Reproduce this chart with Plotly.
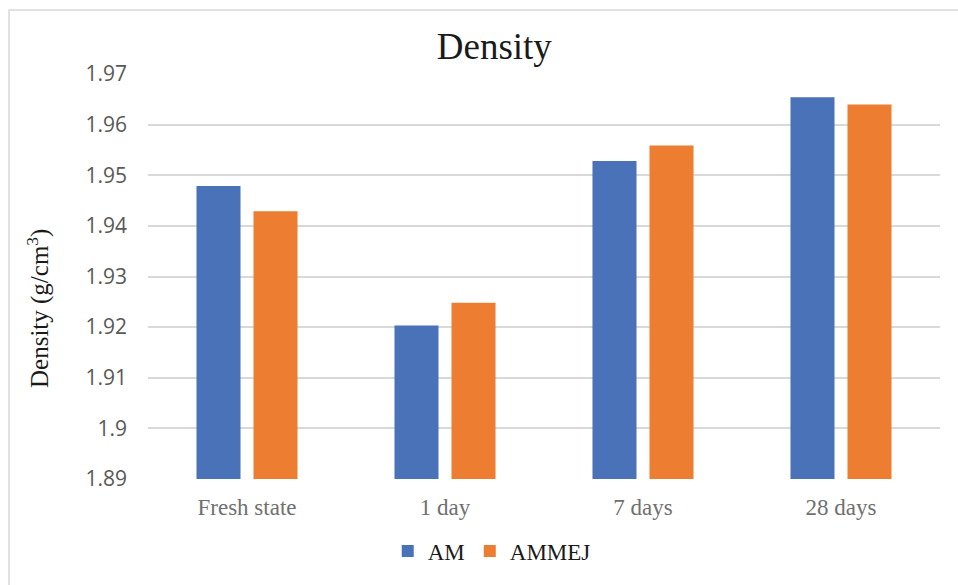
import plotly.graph_objects as go

# Density of the two mortars at each curing age
categories = ["Fresh state", "1 day", "7 days", "28 days"]
am_values = [1.9479, 1.9203, 1.9528, 1.9654]
ammej_values = [1.9429, 1.9248, 1.9559, 1.9640]
y_ticks = [1.89, 1.90, 1.91, 1.92, 1.93, 1.94, 1.95, 1.96, 1.97]
y_tick_text = ["1.89", "1.9", "1.91", "1.92", "1.93", "1.94", "1.95", "1.96", "1.97"]

SERIF = "Liberation Serif, Times New Roman, serif"
SANS = "Open Sans, Liberation Sans, sans-serif"

fig = go.Figure()
fig.add_trace(go.Bar(name="AM", x=categories, y=am_values,
                     marker=dict(color="#4A72B8", line=dict(width=0))))
fig.add_trace(go.Bar(name="AMMEJ", x=categories, y=ammej_values,
                     marker=dict(color="#ED7D31", line=dict(width=0))))

fig.update_layout(
    width=958, height=585,
    margin=dict(l=148, r=18, t=74, b=106),
    paper_bgcolor="white", plot_bgcolor="white",
    barmode="group", bargap=0.424, bargroupgap=0.228,
    title=dict(text="Density", x=0.516, xanchor="center", y=0.921,
               yanchor="middle", font=dict(family=SERIF, size=37, color="#1a1a1a")),
    showlegend=True,
    legend=dict(orientation="h", x=0.434, xanchor="center", y=-0.178,
                yanchor="middle", font=dict(family=SERIF, size=23, color="#1a1a1a"),
                itemwidth=30, bgcolor="rgba(0,0,0,0)"),
    xaxis=dict(showgrid=False, showline=False, ticks="",
               tickfont=dict(family=SERIF, size=23, color="#707070"),
               ticklabelstandoff=12),
    yaxis=dict(range=[1.89, 1.97], tickvals=y_ticks, ticktext=y_tick_text,
               showgrid=True, gridcolor="#d9d9d9", gridwidth=1.5,
               zeroline=False, showline=False, ticks="",
               tickfont=dict(family=SANS, size=21, color="#595959"),
               ticklabelstandoff=20),
    annotations=[dict(text="Density (g/cm<sup>3</sup>)", xref="paper", yref="paper",
                      x=-0.139, y=0.422, textangle=-90, showarrow=False,
                      xanchor="center", yanchor="middle",
                      font=dict(family=SERIF, size=25, color="#1a1a1a"))],
    shapes=[dict(type="rect", xref="paper", yref="paper",
                 x0=-0.1755, x1=1.03, y0=-0.28, y1=1.158,
                 line=dict(color="#d9d9d9", width=1.5), fillcolor="rgba(0,0,0,0)")],
)

fig.write_html("out.html")
